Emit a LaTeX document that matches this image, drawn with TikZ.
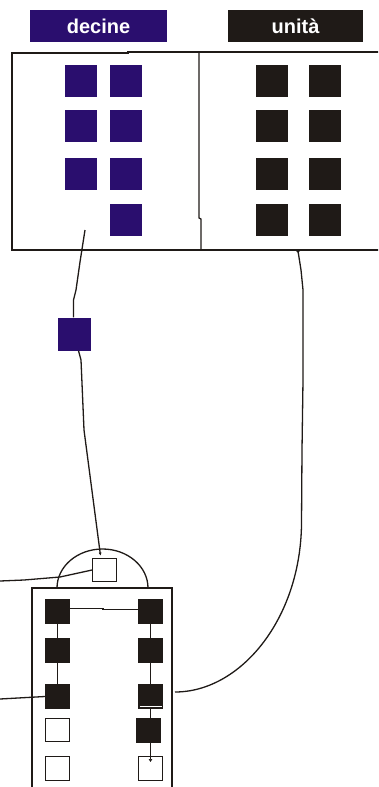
\documentclass[tikz,border=0pt]{standalone}
\usepackage{fontspec}
\setmainfont{Liberation Sans}
\usetikzlibrary{arrows.meta}
\definecolor{navy}{HTML}{2A0E6E}
\definecolor{ink}{HTML}{1F1A17}
\begin{document}
\begin{tikzpicture}[x=1pt,y=-1pt,
  line/.style={draw=ink,line width=1.3pt},
  bsq/.style={draw=none,fill=navy,minimum size=32pt,inner sep=0pt},
  ksq/.style={draw=none,fill=ink,minimum size=32pt,inner sep=0pt},
  fsq/.style={draw=ink,fill=ink,line width=1pt,minimum size=24pt,inner sep=0pt},
  osq/.style={draw=ink,fill=white,line width=1.3pt,minimum size=23.5pt,inner sep=0pt},
  lab/.style={inner sep=0pt,text=white,font=\bfseries\fontsize{20}{20}\selectfont}
]
\useasboundingbox (0,0) rectangle (378,787);
\clip (0,0) rectangle (378,787);
% labels
\node[fill=navy,minimum width=137pt,minimum height=32pt,inner sep=0pt] (ld) at (98.5,26) {};
\node[lab] at (ld) {decine};
\node[fill=ink,minimum width=135pt,minimum height=32pt,inner sep=0pt] (lu) at (295.5,26) {};
\node[lab] at (lu) {unità};
% top box
\draw[line] (400,52) -- (128,52) -- (128,53) -- (12,53) -- (12,250) -- (400,250);
\draw[line] (199,52) -- (199,218) -- (201,219) -- (201,250);
% blue squares
\node[bsq] (b11) at (81,80.5) {};
\node[bsq] (b12) at (126,80.5) {};
\node[bsq] (b21) at (81,126) {};
\node[bsq] (b22) at (126,126) {};
\node[bsq] (b31) at (81,174) {};
\node[bsq] (b32) at (126,174) {};
\node[bsq] (b42) at (126,220) {};
% black squares
\node[ksq] (k11) at (271.5,80.5) {};
\node[ksq] (k12) at (325,80.5) {};
\node[ksq] (k21) at (271.5,126) {};
\node[ksq] (k22) at (325,126) {};
\node[ksq] (k31) at (271.5,174) {};
\node[ksq] (k32) at (325,174) {};
\node[ksq] (k41) at (271.5,220) {};
\node[ksq] (k42) at (325,220) {};
% single blue square
\node[bsq,minimum size=33pt] (bs) at (74.5,334) {};
% bottom box and arc
\draw[line] (148,588) arc[start angle=0,end angle=180,x radius=45.5pt,y radius=39pt];
\draw[line] (32,800) -- (32,588) -- (172,588) -- (172,800);
\node[osq] (sb) at (104.5,570) {};
% bottom squares
\node[fsq] (q11) at (57.5,611.5) {};
\node[fsq] (q21) at (57.5,650) {};
\node[fsq] (q31) at (57.5,696.5) {};
\node[osq] (q41) at (57.5,730) {};
\node[osq] (q51) at (57.5,768.5) {};
\node[fsq] (q12) at (150.5,611.5) {};
\node[fsq] (q22) at (150.5,650) {};
\node[fsq] (q32) at (150.5,696.5) {};
\node[fsq] (q42) at (148.5,730) {};
\node[osq] (q52) at (150.5,768.5) {};
\draw[white,line width=0.8pt] ([xshift=1.5pt,yshift=3pt]q32.south west) -- ([xshift=-1.5pt,yshift=3pt]q32.south east);
% connectors
\coordinate (d0) at (85,230);
\draw[line] (d0) -- (80,262) -- (76,290) -- (73.5,300) -- (bs.north -| 73.5,0);
\draw[line,-{Latex[length=3pt,width=3pt]}] ([xshift=4pt]bs.south) -- (81,360) -- (84,430) -- ([xshift=-4pt,yshift=2pt]sb.north);
\coordinate (u0) at (298,251);
\fill[ink] (u0) circle (1.8pt);
\draw[line] (u0) -- (301,270) -- (303,290) -- (303,380) -- (302,450) -- (301.5,525) .. controls (300,620) and (240,692) .. (175,692);
\coordinate (w1) at (0,581);
\draw[line] (w1) -- (24,580) -- (60,577) -- (sb.west);
\coordinate (w2) at (0,699);
\draw[line] (w2) -- (q31.west);
\draw[line] ([yshift=3pt]q11.east) -- (103,608.5) -- (103,609.5) -- ([yshift=2pt]q12.west);
\draw[line] (q11) -- (q21);
\draw[line] (q21) -- (q31);
\draw[line] (q12) -- (q22);
\draw[line] (q22) -- (q32);
\draw[line] (q32.south) -- (q32.south |- q42.north);
\draw[line,-{Latex[length=3pt,width=4pt]}] (q32.south |- q42.south) -- ([yshift=-6pt]q52.north);
\end{tikzpicture}
\end{document}
